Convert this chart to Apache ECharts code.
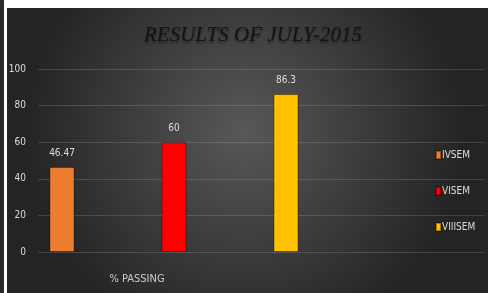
<!DOCTYPE html>
<html>
<head>
<meta charset="utf-8">
<script src="https://cdn.jsdelivr.net/npm/echarts@6/dist/echarts.min.js"></script>
<style>
  html, body { margin: 0; padding: 0; background: #fff; }
  #main { width: 488px; height: 293px; }
</style>
</head>
<body>
<div id="main"></div>
<script>
// data
var categories = ['% PASSING'];
var semesters = ['IVSEM', 'VISEM', 'VIIISEM'];
var passing = [46.47, 60, 86.3];
var colors = ['#ED7D31', '#FF0000', '#FFC000'];
var yTicks = [0, 20, 40, 60, 80, 100];

var narrow = "'Liberation Sans Narrow','DejaVu Sans Condensed',sans-serif";

var myChart = echarts.init(document.getElementById('main'));

var series = semesters.map(function (name, i) {
  return {
    name: name,
    type: 'bar',
    xAxisIndex: 0,
    yAxisIndex: 0,
    barWidth: 25,
    barGap: '348%',
    itemStyle: { color: colors[i], borderColor: 'rgba(0,0,0,0.35)', borderWidth: 1 },
    label: {
      show: true,
      position: 'top',
      distance: 9,
      color: '#dddddd',
      fontSize: 10,
      fontFamily: narrow
    },
    data: [passing[i]]
  };
});

var option = {
  backgroundColor: {
    type: 'radial', x: 0.5, y: 0.45, r: 0.75,
    colorStops: [
      { offset: 0, color: '#585858' },
      { offset: 1, color: '#242424' }
    ]
  },
  animation: false,
  title: {
    text: 'RESULTS OF JULY-2015',
    left: 139,
    top: 20,
    textStyle: {
      fontFamily: "'Liberation Serif', serif",
      fontStyle: 'italic',
      fontWeight: 'normal',
      fontSize: 21,
      color: '#141414',
      textShadowColor: 'rgba(0,0,0,0.45)',
      textShadowBlur: 2,
      textShadowOffsetY: 2
    }
  },
  legend: {
    orient: 'vertical',
    left: 430,
    top: 145,
    itemWidth: 5,
    itemHeight: 8,
    itemGap: 26,
    icon: 'rect',
    data: semesters,
    textStyle: { color: '#dddddd', fontSize: 10, fontFamily: narrow, padding: [0, 0, 0, -4] }
  },
  grid: [
    { left: 38, right: 178, top: 69, bottom: 41 },
    { left: 38, right: 3, top: 69, bottom: 41 }
  ],
  xAxis: [
    {
      type: 'category',
      gridIndex: 0,
      data: categories,
      axisLine: { show: false },
      axisTick: { show: false },
      axisLabel: {
        color: '#cccccc',
        fontSize: 11,
        fontFamily: narrow,
        margin: 22,
        padding: [0, 74, 0, 0]
      }
    },
    { type: 'value', gridIndex: 1, show: false, min: 0, max: 1 }
  ],
  yAxis: [
    { type: 'value', gridIndex: 0, min: yTicks[0], max: yTicks[yTicks.length - 1], interval: 20, show: false },
    {
      type: 'value',
      gridIndex: 1,
      min: yTicks[0],
      max: yTicks[yTicks.length - 1],
      interval: 20,
      axisLine: { show: false },
      axisTick: { show: false },
      axisLabel: { color: '#dddddd', fontSize: 10, fontFamily: narrow, margin: 12 },
      splitLine: { lineStyle: { color: 'rgba(255,255,255,0.14)', width: 1 } }
    }
  ],
  graphic: [
    { type: 'rect', left: 0, top: 0, shape: { width: 488, height: 8 }, style: { fill: '#ffffff' }, z: 100 },
    { type: 'rect', left: 0, top: 0, shape: { width: 4, height: 293 }, style: { fill: '#2a2a2a' }, z: 100 },
    { type: 'rect', left: 4, top: 0, shape: { width: 3, height: 293 }, style: { fill: '#ffffff' }, z: 100 }
  ],
  series: series
};

myChart.setOption(option);
</script>
</body>
</html>
